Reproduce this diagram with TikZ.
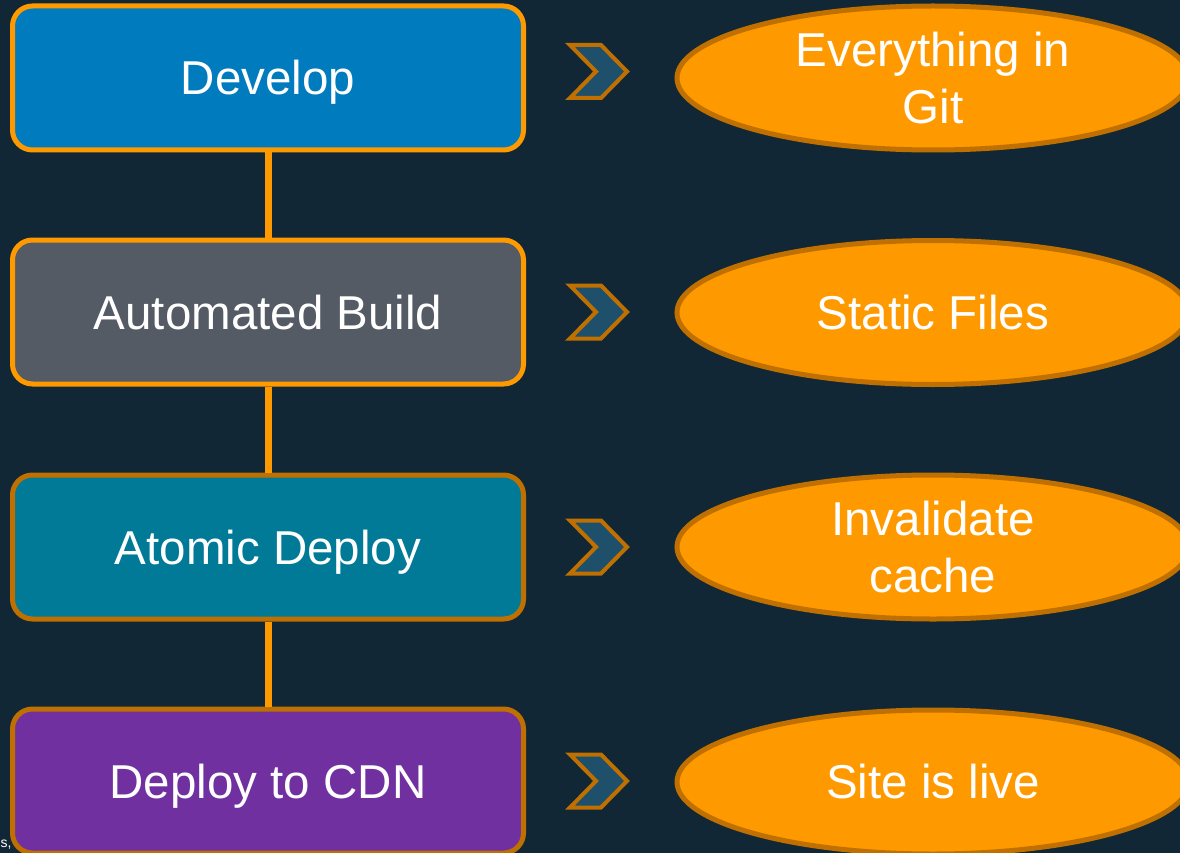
\documentclass[tikz,border=0pt]{standalone}
\usepackage{fontspec}
\setmainfont{Liberation Sans}
\usetikzlibrary{shapes.geometric}
\definecolor{bg}{HTML}{112736}
\definecolor{orng}{HTML}{FF9900}
\definecolor{dorng}{HTML}{BF7000}
\definecolor{cdev}{HTML}{007BBD}
\definecolor{cbuild}{HTML}{545B64}
\definecolor{cdeploy}{HTML}{007A96}
\definecolor{ccdn}{HTML}{7030A0}
\definecolor{chev}{HTML}{1E4F6B}
\tikzset{
  stagebox/.style={rounded corners=20pt, line width=5pt, minimum width=511pt, minimum height=144pt,
    text=white, font=\fontsize{47.5}{57}\selectfont, inner sep=0pt, text height=34pt, text depth=0pt},
  ellbox/.style={ellipse, fill=orng, draw=dorng, line width=5pt, minimum width=512pt, minimum height=144pt,
    text=white, font=\fontsize{47.5}{57}\selectfont, align=center, inner sep=0pt},
  conn/.style={draw=orng, line width=7pt},
  chevshape/.style={fill=chev, draw=dorng, line width=4pt, line join=miter},
}
\begin{document}
\begin{tikzpicture}[x=1pt, y=-1pt]
\fill[bg] (0,0) rectangle (1180,853);
\useasboundingbox (0,0) rectangle (1180,853);
\clip (0,0) rectangle (1180,853);

\node[stagebox, fill=cdev, draw=orng] (dev) at (268,78) {Develop};
\node[stagebox, fill=cbuild, draw=orng] (build) at (268,312) {Automated Build};
\node[stagebox, fill=cdeploy, draw=dorng] (atomic) at (268,547) {Atomic Deploy};
\node[stagebox, fill=ccdn, draw=dorng] (cdn) at (268,781) {Deploy to CDN};

\draw[conn] (dev.south) -- (build.north);
\draw[conn] (build.south) -- (atomic.north);
\draw[conn] (atomic.south) -- (cdn.north);

\foreach \cy in {71.5,312,547,781}{
  \draw[chevshape] (570,\cy-26.5) -- (601,\cy-26.5) -- (627,\cy) -- (601,\cy+26.5) -- (570,\cy+26.5) -- (596,\cy) -- cycle;
}

\node[ellbox] (e1) at (933,78) {Everything in\\Git};
\node[ellbox] (e2) at (933,312.5) {Static Files};
\node[ellbox] (e3) at (933,547) {Invalidate\\cache};
\node[ellbox] (e4) at (933,782) {Site is live};

\node[anchor=base west, text=white, font=\fontsize{14}{16}\selectfont, inner sep=0pt] (frag) at (0.5,847) {s,};
\end{tikzpicture}
\end{document}
